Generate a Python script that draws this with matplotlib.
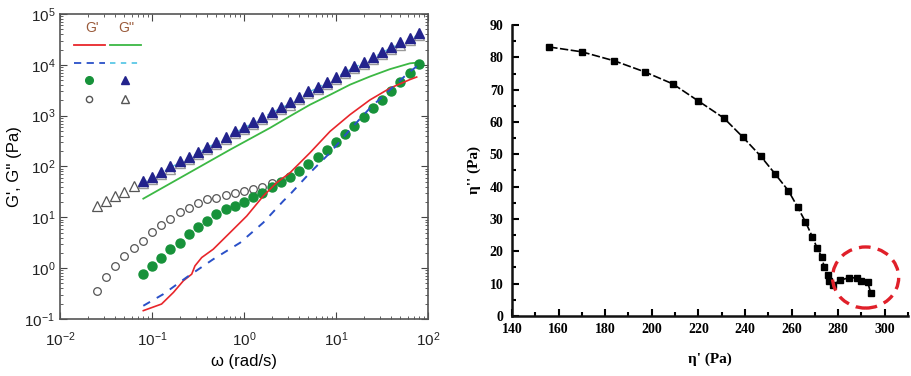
import matplotlib
matplotlib.use("Agg")
import matplotlib.pyplot as plt
from matplotlib.patches import Ellipse
from matplotlib.ticker import LogLocator, MultipleLocator, NullFormatter

# ---- left panel: frequency sweep ----
omega_low = [0.0251, 0.0316, 0.0398, 0.0501, 0.0631]
omega = [0.0794, 0.1, 0.126, 0.158, 0.2, 0.251, 0.316, 0.398, 0.501, 0.631,
         0.794, 1.0, 1.26, 1.58, 2.0, 2.51, 3.16, 3.98, 5.01, 6.31,
         7.94, 10.0, 12.6, 15.8, 20.0, 25.1, 31.6, 39.8, 50.1, 63.1, 79.4]

# G'' filled triangles
g2_filled = [51, 63, 79, 100, 126, 155, 195, 245, 309, 389,
             490, 603, 759, 955, 1200, 1480, 1820, 2340, 3020, 3720,
             4680, 5890, 7590, 9330, 11500, 14450, 18200, 22900, 27500, 33100, 41700]
# G'' open triangles (low frequency part)
g2_open_low = [16.4, 20.6, 25.8, 30.9, 40.7]

# G' filled circles
g1_filled = [0.76, 1.11, 1.62, 2.36, 3.19, 4.64, 6.56, 8.45, 11.5, 14.4,
             16.6, 20, 25, 30.5, 39.3, 49, 63, 81, 110, 155,
             209, 302, 437, 617, 933, 1410, 2040, 3090, 4680, 6920, 10200]
# G' open circles
omega_g1_open = [0.0251, 0.0316, 0.0398, 0.0501, 0.0631, 0.0794, 0.1, 0.126, 0.158, 0.2,
                 0.251, 0.316, 0.398, 0.501, 0.631, 0.794, 1.0, 1.26, 1.58, 2.0]
g1_open = [0.354, 0.667, 1.09, 1.72, 2.47, 3.4, 5.2, 6.97, 9.4, 12.5,
           15.5, 18.8, 22.5, 24.5, 27, 30, 32.8, 35.4, 40, 47]

# G' solid line (red)
red_w = [0.0804, 0.127, 0.171, 0.219, 0.27, 0.293, 0.347, 0.463, 0.705, 1.07,
         1.62, 2.26, 3.16, 5.21, 8.61, 14.2, 23.4, 38.6, 63.7, 75.3]
red_g = [0.146, 0.197, 0.334, 0.564, 0.762, 1.11, 1.62, 2.36, 5.01, 10.6,
         26.3, 47.9, 75.2, 186, 490, 1047, 2040, 3470, 5130, 5750]

# G' dashed line (blue)
blue_w = [0.0804, 0.133, 0.238, 0.463, 0.906, 1.62, 2.67, 3.16, 5.21, 8.61,
          14.2, 23.4, 38.6, 61.1, 79.4]
blue_g = [0.182, 0.309, 0.661, 1.5, 3.16, 7.87, 20.9, 28.2, 75.2, 186,
          531, 1410, 3240, 6920, 10000]

# G'' solid line (green)
green_w = [0.0804, 0.705, 1.92, 3.16, 5.21, 8.61, 14.2, 23.4, 38.6, 63.7, 78.5]
green_g = [23.3, 214, 575, 977, 1640, 2570, 4070, 5890, 8220, 10700, 11100]

# ---- right panel: Cole-Cole ----
eta1 = [156, 170, 184, 197, 209, 220, 231, 239, 246.7, 253, 258.7, 262.6, 266,
        269, 271, 273, 274, 275.5, 276.3, 277.6, 281, 284.5, 288, 289.7, 292.7, 294]
eta2 = [83.2, 81.7, 78.9, 75.5, 71.8, 66.5, 61.2, 55.4, 49.5, 43.9, 38.7, 33.7, 29.1,
        24.4, 21.0, 18.2, 15.2, 12.7, 10.8, 9.6, 11.1, 11.8, 11.8, 10.8, 10.5, 7.1]
circle_center = (291.8, 11.9)
circle_size = (28.4, 18.9)

fig = plt.figure(figsize=(9.11, 3.76), dpi=100)

RED = "#e8262b"
GREEN_LINE = "#3cb844"
GREEN_DOT = "#17923a"
BLUE = "#2a50c8"
CYAN = "#5cc8e6"
NAVY = "#23238c"
GREY = "#555555"

ax1 = fig.add_axes([0.0659, 0.1516, 0.4039, 0.8112])
ax1.set_xscale("log")
ax1.set_yscale("log")

ax1.plot(omega, [v * 0.95 for v in g2_filled], ls=(0, (3, 3)), color=CYAN, lw=1, zorder=2)
ax1.plot(omega, [v * 0.91 for v in g2_filled], ls="none", marker="^", ms=7,
         mfc="white", mec="#999999", mew=1, zorder=3)
ax1.plot(omega_low, g2_open_low, ls="none", marker="^", ms=6.5,
         mfc="white", mec=GREY, mew=0.9, zorder=3)
ax1.plot(omega, g2_filled, ls="none", marker="^", ms=7, color=NAVY, zorder=4)
ax1.plot(green_w, green_g, color=GREEN_LINE, lw=1.3, zorder=3)
ax1.plot(omega_g1_open, g1_open, ls="none", marker="o", ms=5.5,
         mfc="white", mec=GREY, mew=0.9, zorder=3)
ax1.plot(omega, g1_filled, ls="none", marker="o", ms=6.5, color=GREEN_DOT, zorder=4)
ax1.plot(red_w, red_g, color=RED, lw=1.2, zorder=5)
ax1.plot(blue_w, blue_g, color=BLUE, lw=1.4, ls=(0, (4, 4)), zorder=5)

ax1.set_xlim(1e-2, 1e2)
ax1.set_ylim(1e-1, 1e5)
ax1.xaxis.set_minor_locator(LogLocator(base=10, subs=range(2, 10), numticks=20))
ax1.yaxis.set_minor_locator(LogLocator(base=10, subs=range(2, 10), numticks=20))
ax1.xaxis.set_minor_formatter(NullFormatter())
ax1.yaxis.set_minor_formatter(NullFormatter())
ax1.tick_params(which="both", direction="in", top=True, right=True, colors="#444444",
                labelcolor="#222222", labelsize=11)
ax1.tick_params(axis="x", which="major", pad=8)
ax1.tick_params(which="major", length=5)
ax1.tick_params(which="minor", length=2.5)
for s in ax1.spines.values():
    s.set_color("#555555")
    s.set_linewidth(1.2)
for lab in ax1.get_xticklabels() + ax1.get_yticklabels():
    lab.set_family("Liberation Sans")
ax1.set_xlabel("\u03c9 (rad/s)", fontsize=12, family="Liberation Sans", labelpad=4)
ax1.set_ylabel("G', G'' (Pa)", fontsize=12, family="Liberation Sans", labelpad=2)

# hand-drawn legend block
tr = ax1.transAxes
ax1.text(0.087, 0.954, "G'", transform=tr, ha="center", va="center",
         fontsize=10, color="#9a5a3a", family="Liberation Sans")
ax1.text(0.179, 0.954, "G''", transform=tr, ha="center", va="center",
         fontsize=10, color="#9a5a3a", family="Liberation Sans")
ax1.plot([0.038, 0.122], [0.898, 0.898], transform=tr, color=RED, lw=1.3)
ax1.plot([0.136, 0.220], [0.898, 0.898], transform=tr, color=GREEN_LINE, lw=1.3)
ax1.plot([0.038, 0.122], [0.839, 0.839], transform=tr, color=BLUE, lw=1.3, ls=(0, (4, 3)))
ax1.plot([0.136, 0.220], [0.839, 0.839], transform=tr, color=CYAN, lw=1.3, ls=(0, (3, 3)))
ax1.plot([0.079], [0.784], transform=tr, marker="o", ms=5.5, color=GREEN_DOT)
ax1.plot([0.177], [0.784], transform=tr, marker="^", ms=6, color=NAVY)
ax1.plot([0.079], [0.721], transform=tr, marker="o", ms=4.5, mfc="white", mec=GREY)
ax1.plot([0.177], [0.721], transform=tr, marker="^", ms=5.5, mfc="white", mec=GREY)

# ---- right panel ----
ax2 = fig.add_axes([0.562, 0.1596, 0.4347, 0.7739])
ax2.plot(eta1, eta2, color="black", lw=1.2, ls=(0, (5, 1.5)), marker="s", ms=4.5,
         mfc="black", mec="black", zorder=3)
ax2.add_patch(Ellipse(circle_center, circle_size[0], circle_size[1], fill=False,
                      ec="#e0202a", lw=2.4, ls=(0, (3.5, 2.2)), zorder=4))
ax2.set_xlim(140, 310)
ax2.set_ylim(0, 90)
ax2.xaxis.set_major_locator(MultipleLocator(20))
ax2.xaxis.set_minor_locator(MultipleLocator(10))
ax2.yaxis.set_major_locator(MultipleLocator(10))
ax2.yaxis.set_minor_locator(MultipleLocator(5))
ax2.set_xticks(range(140, 301, 20))
ax2.spines["top"].set_visible(False)
ax2.spines["right"].set_visible(False)
for s in ("left", "bottom"):
    ax2.spines[s].set_linewidth(1.8)
    ax2.spines[s].set_color("#111111")
ax2.tick_params(which="both", direction="in", width=1.5, labelsize=10)
ax2.tick_params(axis="x", which="major", pad=5)
ax2.tick_params(axis="y", which="major", pad=6)
ax2.tick_params(which="major", length=5)
ax2.tick_params(which="minor", length=3)
for lab in ax2.get_xticklabels() + ax2.get_yticklabels():
    lab.set_family("Liberation Serif")
    lab.set_fontweight("bold")
ax2.set_xlabel("\u03b7' (Pa)", fontsize=11, family="Liberation Serif",
               fontweight="bold", labelpad=12)
ax2.set_ylabel("\u03b7'' (Pa)", fontsize=11, family="Liberation Serif",
               fontweight="bold", labelpad=6)

fig.savefig("out.png", dpi=100)
